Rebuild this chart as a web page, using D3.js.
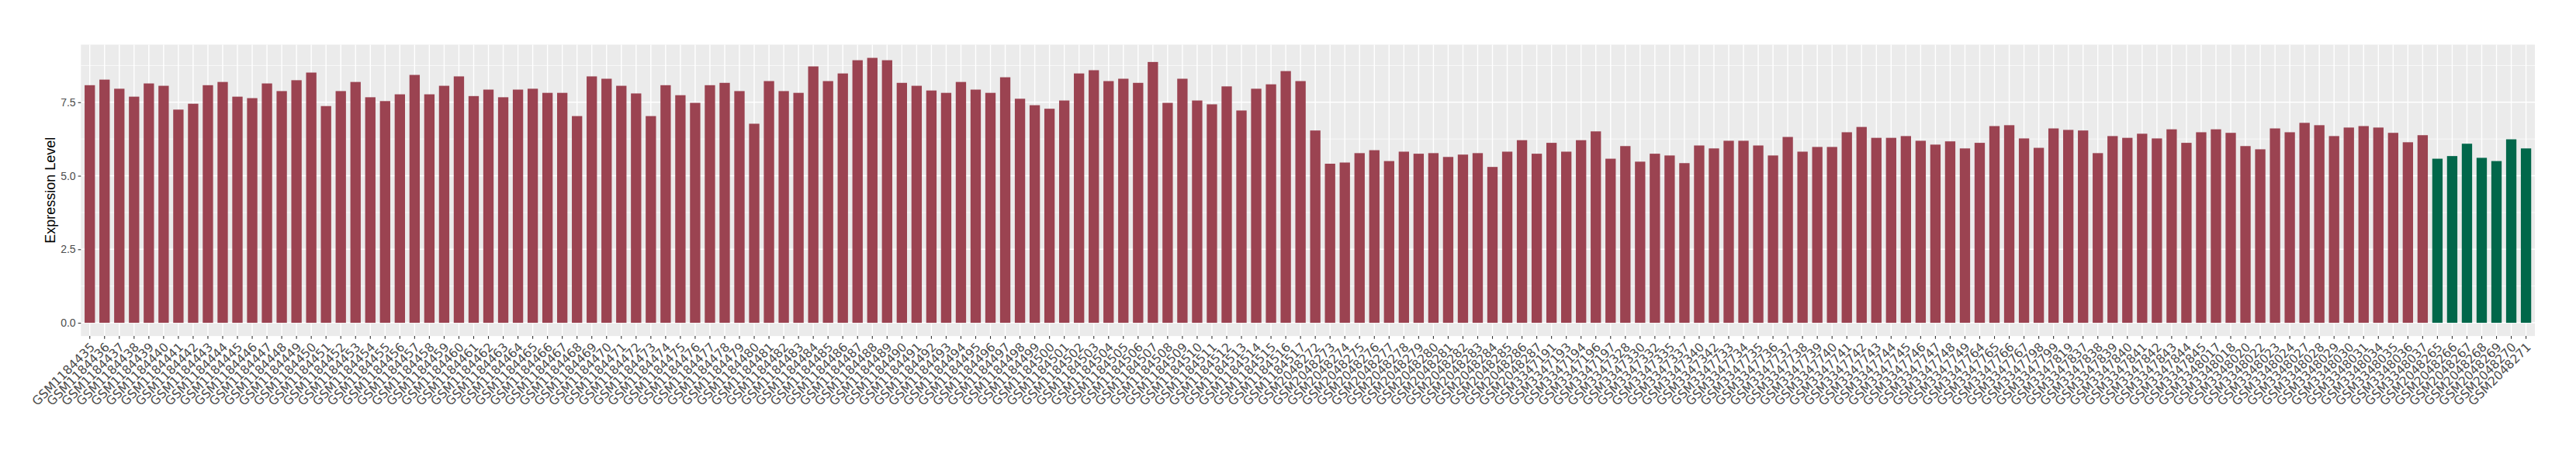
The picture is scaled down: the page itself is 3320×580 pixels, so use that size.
<!DOCTYPE html>
<html>
<head>
<meta charset="utf-8">
<script src="https://cdn.jsdelivr.net/npm/d3@7"></script>
<style>
  html, body { margin: 0; padding: 0; background: #ffffff; }
  svg { display: block; }
</style>
</head>
<body>
<svg id="chart" width="3320" height="580"></svg>
<script>
// ---------------- DATA ----------------
const samplesA = [
  "GSM1184435","GSM1184436","GSM1184437","GSM1184438","GSM1184439","GSM1184440","GSM1184441","GSM1184442",
  "GSM1184443","GSM1184444","GSM1184445","GSM1184446","GSM1184447","GSM1184448","GSM1184449","GSM1184450",
  "GSM1184451","GSM1184452","GSM1184453","GSM1184454","GSM1184455","GSM1184456","GSM1184457","GSM1184458",
  "GSM1184459","GSM1184460","GSM1184461","GSM1184462","GSM1184463","GSM1184464","GSM1184465","GSM1184466",
  "GSM1184467","GSM1184468","GSM1184469","GSM1184470","GSM1184471","GSM1184472","GSM1184473","GSM1184474",
  "GSM1184475","GSM1184476","GSM1184477","GSM1184478","GSM1184479","GSM1184480","GSM1184481","GSM1184482",
  "GSM1184483","GSM1184484","GSM1184485","GSM1184486","GSM1184487","GSM1184488","GSM1184489","GSM1184490",
  "GSM1184491","GSM1184492","GSM1184493","GSM1184494","GSM1184495","GSM1184496","GSM1184497","GSM1184498",
  "GSM1184499","GSM1184500","GSM1184501","GSM1184502","GSM1184503","GSM1184504","GSM1184505","GSM1184506",
  "GSM1184507","GSM1184508","GSM1184509","GSM1184510","GSM1184511","GSM1184512","GSM1184513","GSM1184514",
  "GSM1184515","GSM1184516","GSM1184517"
];
const valuesA = [
  8.08, 8.27, 7.96, 7.69, 8.14, 8.06, 7.25, 7.45, 8.08, 8.19, 7.69, 7.64, 8.14, 7.88, 8.25, 8.51,
  7.37, 7.88, 8.19, 7.67, 7.54, 7.77, 8.43, 7.77,
  8.06, 8.38, 7.71, 7.93, 7.67, 7.93, 7.96, 7.82, 7.82, 7.03, 8.38, 8.30, 8.06, 7.80, 7.03, 8.08,
  7.74, 7.48, 8.08, 8.16, 7.88, 6.77, 8.22, 7.88, 7.82, 8.72, 8.22, 8.48, 8.93,
  9.01, 8.93, 8.16, 8.06, 7.90, 7.82, 8.19, 7.93, 7.82, 8.35, 7.62, 7.40, 7.28, 7.56, 8.48, 8.59,
  8.22, 8.30, 8.16, 8.87, 7.48, 8.30, 7.56, 7.43, 8.04, 7.22, 7.96, 8.11, 8.56, 8.22
];

const samplesB = [
  "GSM2048272","GSM2048273","GSM2048274","GSM2048275","GSM2048276","GSM2048277","GSM2048278","GSM2048279",
  "GSM2048280","GSM2048281","GSM2048282","GSM2048283","GSM2048284","GSM2048285","GSM2048286","GSM2048287"
];
const valuesB = [6.54, 5.41, 5.45, 5.77, 5.87, 5.50, 5.82, 5.75, 5.77, 5.64, 5.72, 5.77, 5.30, 5.82, 6.21, 5.75];

const samplesC = [
  "GSM3347191","GSM3347193","GSM3347194","GSM3347196","GSM3347197","GSM3347328","GSM3347330","GSM3347332",
  "GSM3347335","GSM3347337","GSM3347340","GSM3347342","GSM3347733","GSM3347734","GSM3347735","GSM3347736",
  "GSM3347737","GSM3347738","GSM3347739","GSM3347740","GSM3347741","GSM3347742","GSM3347743","GSM3347744",
  "GSM3347745","GSM3347746","GSM3347747","GSM3347748","GSM3347749","GSM3347764","GSM3347765","GSM3347766",
  "GSM3347767","GSM3347798","GSM3347799","GSM3347819","GSM3347837","GSM3347838","GSM3347839","GSM3347840",
  "GSM3347841","GSM3347842","GSM3347843","GSM3347844","GSM3347845","GSM3348017","GSM3348018","GSM3348020",
  "GSM3348022","GSM3348023","GSM3348024","GSM3348027","GSM3348028","GSM3348029","GSM3348030","GSM3348031",
  "GSM3348034","GSM3348035","GSM3348036","GSM3348037"
];
const valuesC = [
  6.12, 5.82, 6.21, 6.51, 5.58, 6.01, 5.48, 5.75, 5.69, 5.43,
  6.03, 5.93, 6.19, 6.19, 6.03, 5.69, 6.32, 5.82, 5.98, 5.98, 6.48, 6.66, 6.29, 6.29, 6.35, 6.19,
  6.06, 6.17, 5.93, 6.12, 6.69, 6.72, 6.27, 5.95, 6.61, 6.56, 6.54, 5.77, 6.35,
  6.29, 6.43, 6.27, 6.58, 6.12, 6.48, 6.58, 6.46, 6.01, 5.90, 6.61, 6.48, 6.80, 6.72, 6.35, 6.64,
  6.69, 6.64, 6.46, 6.14, 6.38
];

const samplesControl = ["GSM2048265","GSM2048266","GSM2048267","GSM2048268","GSM2048269","GSM2048270","GSM2048271"];
const valuesControl = [5.58, 5.67, 6.09, 5.61, 5.50, 6.24, 5.93];

const yTicks = [0, 2.5, 5.0, 7.5];
const yMinorTicks = [1.25, 3.75, 6.25, 8.75];
const yTitle = "Expression Level";
const groupColors = { disease: "#9B4351", control: "#01674A" };

// ---------------- BUILD ----------------
const data = [];
[[samplesA, valuesA, "disease"], [samplesB, valuesB, "disease"], [samplesC, valuesC, "disease"],
 [samplesControl, valuesControl, "control"]].forEach(([s, v, g]) => {
  s.forEach((name, i) => data.push({ name, value: v[i], group: g }));
});

const svg = d3.select("#chart");
const panel = { left: 104.3, right: 3267, top: 57.5, bottom: 433.1 };

const x = d3.scaleBand()
  .domain(data.map(d => d.name))
  .range([panel.left, panel.right])
  .paddingInner(0.3)
  .paddingOuter(0.25);

const maxV = d3.max(data, d => d.value);
const y = d3.scaleLinear()
  .domain([-0.05 * maxV, 1.05 * maxV])
  .range([panel.bottom, panel.top]);

// panel background
svg.append("rect")
  .attr("x", panel.left).attr("y", panel.top)
  .attr("width", panel.right - panel.left).attr("height", panel.bottom - panel.top)
  .attr("fill", "#EBEBEB");

// minor gridlines
svg.append("g").selectAll("line").data(yMinorTicks).join("line")
  .attr("x1", panel.left).attr("x2", panel.right)
  .attr("y1", d => y(d)).attr("y2", d => y(d))
  .attr("stroke", "#ffffff").attr("stroke-width", 0.7);

// major gridlines
svg.append("g").selectAll("line").data(yTicks).join("line")
  .attr("x1", panel.left).attr("x2", panel.right)
  .attr("y1", d => y(d)).attr("y2", d => y(d))
  .attr("stroke", "#ffffff").attr("stroke-width", 1.4);

svg.append("g").selectAll("line").data(data).join("line")
  .attr("x1", d => x(d.name) + x.bandwidth() / 2).attr("x2", d => x(d.name) + x.bandwidth() / 2)
  .attr("y1", panel.top).attr("y2", panel.bottom)
  .attr("stroke", "#ffffff").attr("stroke-width", 1.4);

// bars
svg.append("g").selectAll("rect").data(data).join("rect")
  .attr("x", d => x(d.name))
  .attr("width", x.bandwidth())
  .attr("y", d => y(d.value))
  .attr("height", d => y(0) - y(d.value))
  .attr("fill", d => groupColors[d.group]);

// y axis
const yAxis = d3.axisLeft(y).tickValues(yTicks).tickFormat(d3.format(".1f")).tickSize(3.7).tickPadding(3);
const gy = svg.append("g").attr("transform", `translate(${panel.left},0)`).call(yAxis);
gy.select(".domain").remove();
gy.selectAll(".tick line").attr("stroke", "#333333").attr("stroke-width", 1.1);
gy.selectAll(".tick text")
  .attr("fill", "#4D4D4D")
  .style("font-family", "'Liberation Sans', Arial, sans-serif")
  .style("font-size", "14px");

// x axis
const xAxis = d3.axisBottom(x).tickSize(3.7).tickPadding(3);
const gx = svg.append("g").attr("transform", `translate(0,${panel.bottom})`).call(xAxis);
gx.select(".domain").remove();
gx.selectAll(".tick line").attr("stroke", "#333333").attr("stroke-width", 1.1);
gx.selectAll(".tick text")
  .attr("fill", "#4D4D4D")
  .style("font-family", "'DejaVu Sans', sans-serif")
  .style("font-size", "15.8px")
  .attr("text-anchor", "end")
  .attr("dy", "0.75em")
  .attr("transform", "translate(-1,7) rotate(-45)")
  .attr("y", 0).attr("x", 0);

// y title
svg.append("text")
  .attr("transform", `translate(71,${(panel.top + panel.bottom) / 2}) rotate(-90)`)
  .attr("text-anchor", "middle")
  .style("font-family", "'Liberation Sans', Arial, sans-serif")
  .style("font-size", "18px")
  .attr("fill", "#000000")
  .text(yTitle);
</script>
</body>
</html>
